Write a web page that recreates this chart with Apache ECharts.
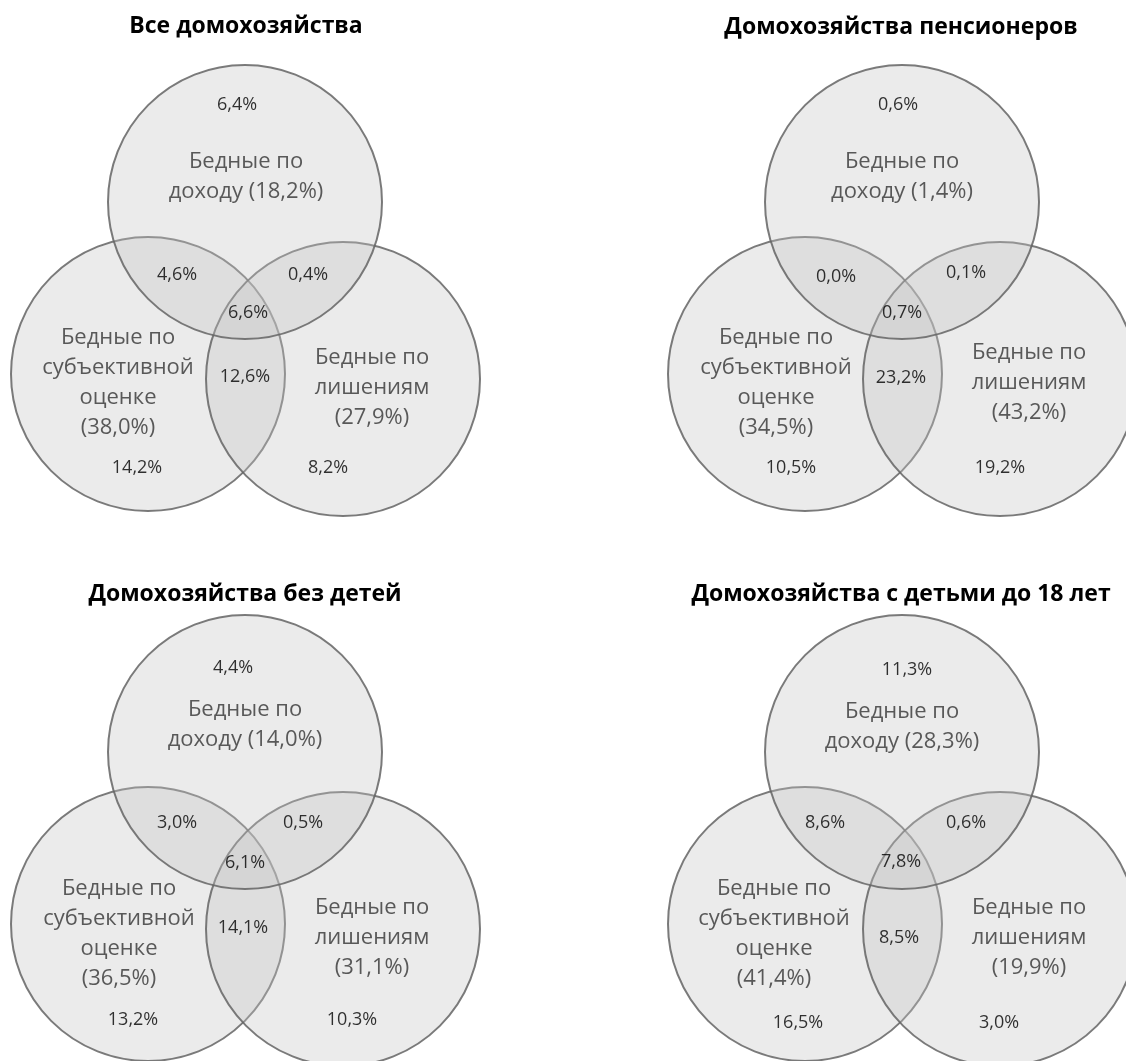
<!DOCTYPE html>
<html>
<head>
<meta charset="utf-8">
<script src="https://cdn.jsdelivr.net/npm/echarts@6/dist/echarts.min.js"></script>
<style>
html,body{margin:0;padding:0;background:#fff;}
#chart{width:1126px;height:1061px;}
</style>
</head>
<body>
<div id="chart"></div>
<script>
// ---------- DATA ----------
const panelTitles = ['Все домохозяйства', 'Домохозяйства пенсионеров', 'Домохозяйства без детей', 'Домохозяйства с детьми до 18 лет'];
const incomeTotal = [18.2, 1.4, 14.0, 28.3];
const subjectiveTotal = [38.0, 34.5, 36.5, 41.4];
const deprivationTotal = [27.9, 43.2, 31.1, 19.9];
const incomeOnly = [6.4, 0.6, 4.4, 11.3];
const incomeSubjective = [4.6, 0.0, 3.0, 8.6];
const incomeDeprivation = [0.4, 0.1, 0.5, 0.6];
const allThree = [6.6, 0.7, 6.1, 7.8];
const subjectiveDeprivation = [12.6, 23.2, 14.1, 8.5];
const subjectiveOnly = [14.2, 10.5, 13.2, 16.5];
const deprivationOnly = [8.2, 19.2, 10.3, 3.0];

// ---------- LAYOUT (positions only) ----------
const W = 1126, H = 1061;
const FONT = "'Open Sans', 'Noto Sans', sans-serif";
const panelOrigin = [[245, 202], [902, 202], [245, 752], [902, 752]];
const titlePos = [[246, 29], [901, 30], [245, 597], [901, 597]];
const circleOffset = { income: [0, 0], subjective: [-97, 172], deprivation: [98, 177] };
const circleRadius = 137;
// offsets of text labels relative to panel origin, per panel
const labelOffset = [
  { incomeOnly: [-8, -97], incomeSet: [1, -25], incomeSubjective: [-68, 73], incomeDeprivation: [63, 73], allThree: [3, 111], subjectiveSet: [-127, 181], subjectiveDeprivation: [0, 175], deprivationSet: [127, 186], subjectiveOnly: [-108, 266], deprivationOnly: [83, 266] },
  { incomeOnly: [-4, -97], incomeSet: [0, -25], incomeSubjective: [-66, 75], incomeDeprivation: [64, 71], allThree: [0, 111], subjectiveSet: [-126, 181], subjectiveDeprivation: [-1, 176], deprivationSet: [127, 181], subjectiveOnly: [-111, 266], deprivationOnly: [98, 266] },
  { incomeOnly: [-12, -84], incomeSet: [0, -27], incomeSubjective: [-68, 71], incomeDeprivation: [58, 71], allThree: [0, 111], subjectiveSet: [-126, 182], subjectiveDeprivation: [-2, 176], deprivationSet: [127, 186], subjectiveOnly: [-112, 268], deprivationOnly: [107, 268] },
  { incomeOnly: [5, -82], incomeSet: [0, -25], incomeSubjective: [-77, 71], incomeDeprivation: [64, 71], allThree: [-1, 110], subjectiveSet: [-128, 182], subjectiveDeprivation: [-3, 186], deprivationSet: [127, 186], subjectiveOnly: [-104, 271], deprivationOnly: [97, 271] }
];

// ---------- BUILD ----------
const fmt = v => v.toFixed(1).replace('.', ',') + '%';
const at = (p, key, src) => {
  const o = panelOrigin[p];
  const d = src[p][key];
  return [o[0] + d[0], o[1] + d[1]];
};

const circleData = [];
const smallData = [];
const setData = [];
for (let p = 0; p < 4; p++) {
  const o = panelOrigin[p];
  ['subjective', 'deprivation', 'income'].forEach(k => {
    circleData.push({ value: [o[0] + circleOffset[k][0], o[1] + circleOffset[k][1]] });
  });
  const regions = {
    incomeOnly: incomeOnly[p], incomeSubjective: incomeSubjective[p], incomeDeprivation: incomeDeprivation[p],
    allThree: allThree[p], subjectiveDeprivation: subjectiveDeprivation[p],
    subjectiveOnly: subjectiveOnly[p], deprivationOnly: deprivationOnly[p]
  };
  Object.keys(regions).forEach(k => {
    smallData.push({ name: fmt(regions[k]), value: at(p, k, labelOffset) });
  });
  setData.push({ name: 'Бедные по\nдоходу (' + fmt(incomeTotal[p]) + ')', value: at(p, 'incomeSet', labelOffset) });
  setData.push({ name: 'Бедные по\nсубъективной\nоценке\n(' + fmt(subjectiveTotal[p]) + ')', value: at(p, 'subjectiveSet', labelOffset) });
  setData.push({ name: 'Бедные по\nлишениям\n(' + fmt(deprivationTotal[p]) + ')', value: at(p, 'deprivationSet', labelOffset) });
}

const titles = panelTitles.map((t, i) => ({
  text: t,
  left: titlePos[i][0],
  top: titlePos[i][1] - 14,
  textAlign: 'center',
  padding: 0,
  textStyle: { fontFamily: FONT, fontWeight: 'bold', fontSize: 23, color: '#000' }
}));

const chart = echarts.init(document.getElementById('chart'), null, { renderer: 'canvas' });
chart.setOption({
  animation: false,
  backgroundColor: '#ffffff',
  title: titles,
  grid: { left: 0, top: 0, width: W, height: H },
  xAxis: { type: 'value', min: 0, max: W, show: false },
  yAxis: { type: 'value', min: 0, max: H, inverse: true, show: false },
  series: [
    {
      type: 'scatter',
      silent: true,
      symbol: 'circle',
      symbolSize: circleRadius * 2,
      data: circleData,
      itemStyle: { color: 'rgba(195,195,195,0.34)', borderColor: 'rgba(100,100,100,0.85)', borderWidth: 2, opacity: 1 },
      z: 1
    },
    {
      type: 'scatter',
      silent: true,
      symbolSize: 0,
      data: setData,
      label: {
        show: true, position: 'inside', formatter: '{b}',
        fontFamily: FONT, fontSize: 22, lineHeight: 30, color: '#333', align: 'center'
      },
      z: 3
    },
    {
      type: 'scatter',
      silent: true,
      symbolSize: 0,
      data: smallData,
      label: {
        show: true, position: 'inside', formatter: '{b}',
        fontFamily: FONT, fontSize: 18, color: '#000'
      },
      z: 3
    }
  ]
});
</script>
</body>
</html>
